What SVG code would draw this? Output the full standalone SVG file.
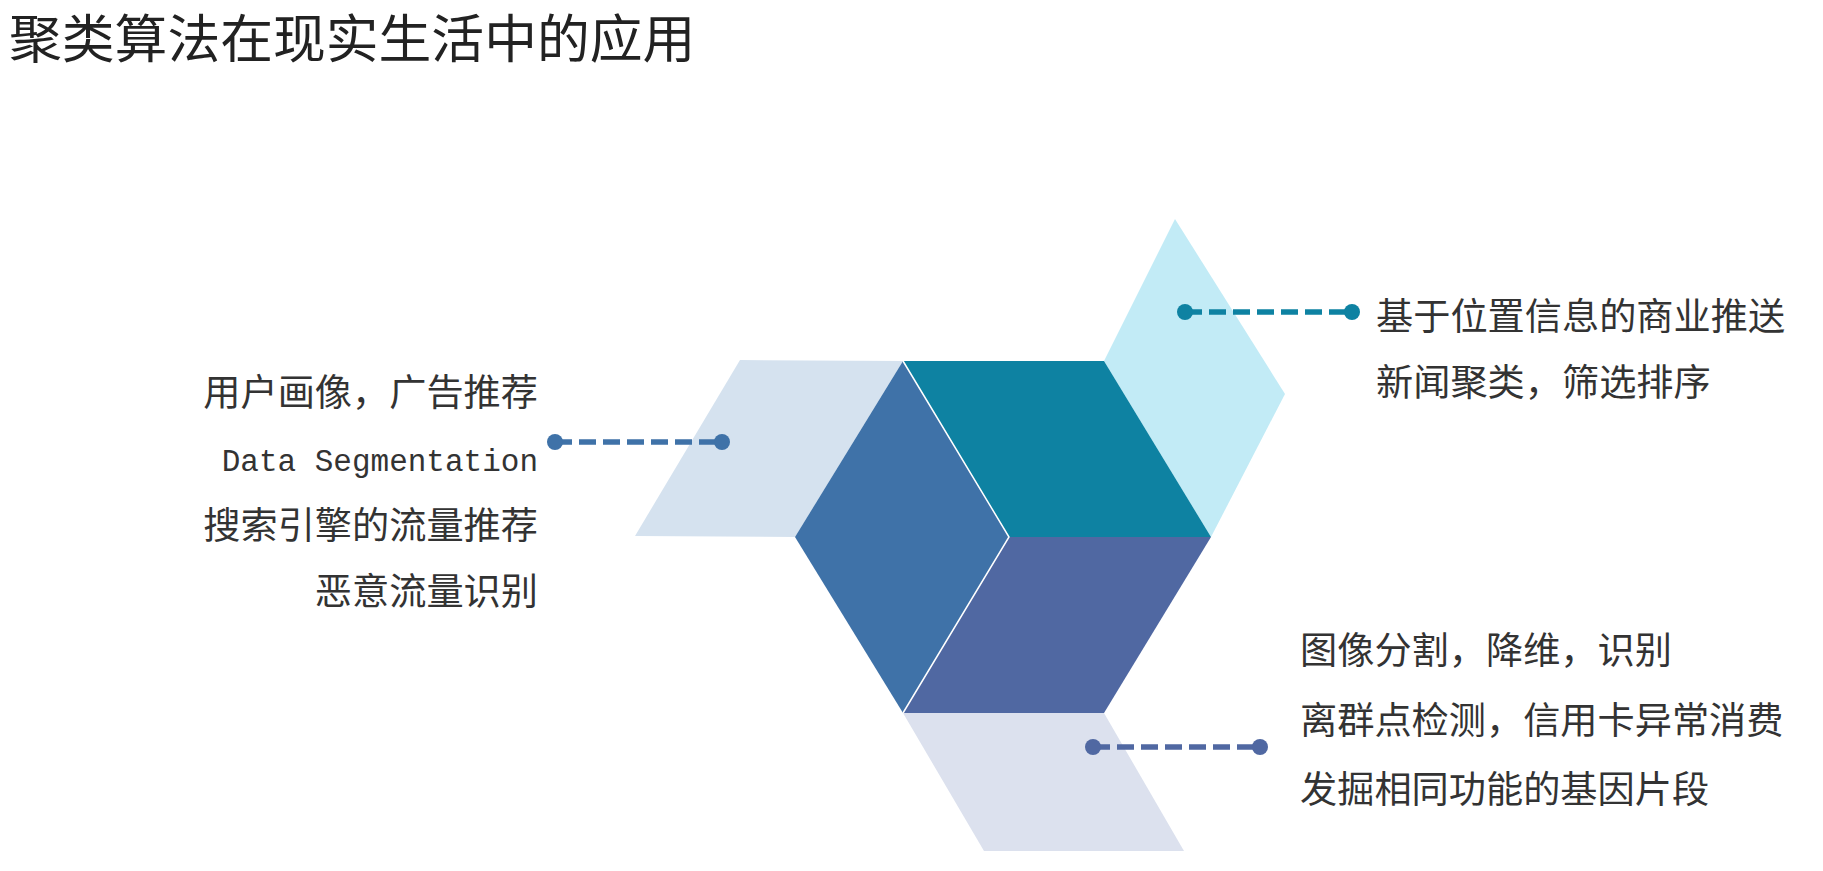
<svg xmlns="http://www.w3.org/2000/svg" width="1823" height="871" viewBox="0 0 1823 871">
<style>
.t{font-family:"Noto Sans CJK SC","Noto Sans",sans-serif;font-size:37.2px;fill:#333}
.m{font-family:"Liberation Mono","DejaVu Sans Mono",monospace;font-size:31px;fill:#333}
.title{font-family:"Noto Sans CJK SC","Noto Sans",sans-serif;font-size:52.8px;fill:#222}
.sep{stroke:#fff;stroke-width:1.5;fill:none}
.dash{stroke-width:5.5;stroke-dasharray:17 7;fill:none}
</style>
<rect width="1823" height="871" fill="#fff"/>
<text class="title" x="9" y="58">聚类算法在现实生活中的应用</text>
<g id="shapes">
<polygon id="left-pale" points="740,360 903,361 795,537 635,536" fill="#D5E2EF"/>
<polygon id="diamond" points="1175,219 1285,394 1211,537 1104,361" fill="#C2EBF6"/>
<polygon id="bottom-pale" points="903,713 1104,713 1184,851 984,851" fill="#DCE1EE"/>
<polygon id="face-left" points="903,361 1009,537 903,713 795,537" fill="#3F72A8"/>
<polygon id="face-top" points="903,361 1104,361 1211,537 1009,537" fill="#0E82A2"/>
<polygon id="face-bottom" points="1009,537 1211,537 1104,713 903,713" fill="#5068A2"/>
<polyline class="sep" points="903,361 1009,537 903,713"/>
</g>
<g id="connectors">
<line class="dash" x1="555" y1="442" x2="722" y2="442" stroke="#3F72A8"/>
<circle cx="555" cy="442" r="8" fill="#3F72A8"/>
<circle cx="722" cy="442" r="8" fill="#3F72A8"/>
<line class="dash" x1="1185" y1="312" x2="1352" y2="312" stroke="#0E82A2"/>
<circle cx="1185" cy="312" r="8" fill="#0E82A2"/>
<circle cx="1352" cy="312" r="8" fill="#0E82A2"/>
<line class="dash" x1="1093" y1="747" x2="1260" y2="747" stroke="#5068A2"/>
<circle cx="1093" cy="747" r="8" fill="#5068A2"/>
<circle cx="1260" cy="747" r="8" fill="#5068A2"/>
</g>
<g id="left-text" text-anchor="end">
<text class="t" x="538" y="406">用户画像，广告推荐</text>
<text class="m" x="538" y="471">Data Segmentation</text>
<text class="t" x="538" y="539">搜索引擎的流量推荐</text>
<text class="t" x="538" y="605">恶意流量识别</text>
</g>
<g id="top-right-text">
<text class="t" x="1376" y="330">基于位置信息的商业推送</text>
<text class="t" x="1376" y="396">新闻聚类，筛选排序</text>
</g>
<g id="bottom-right-text">
<text class="t" x="1300" y="664">图像分割，降维，识别</text>
<text class="t" x="1300" y="734">离群点检测，信用卡异常消费</text>
<text class="t" x="1300" y="803">发掘相同功能的基因片段</text>
</g>
</svg>
